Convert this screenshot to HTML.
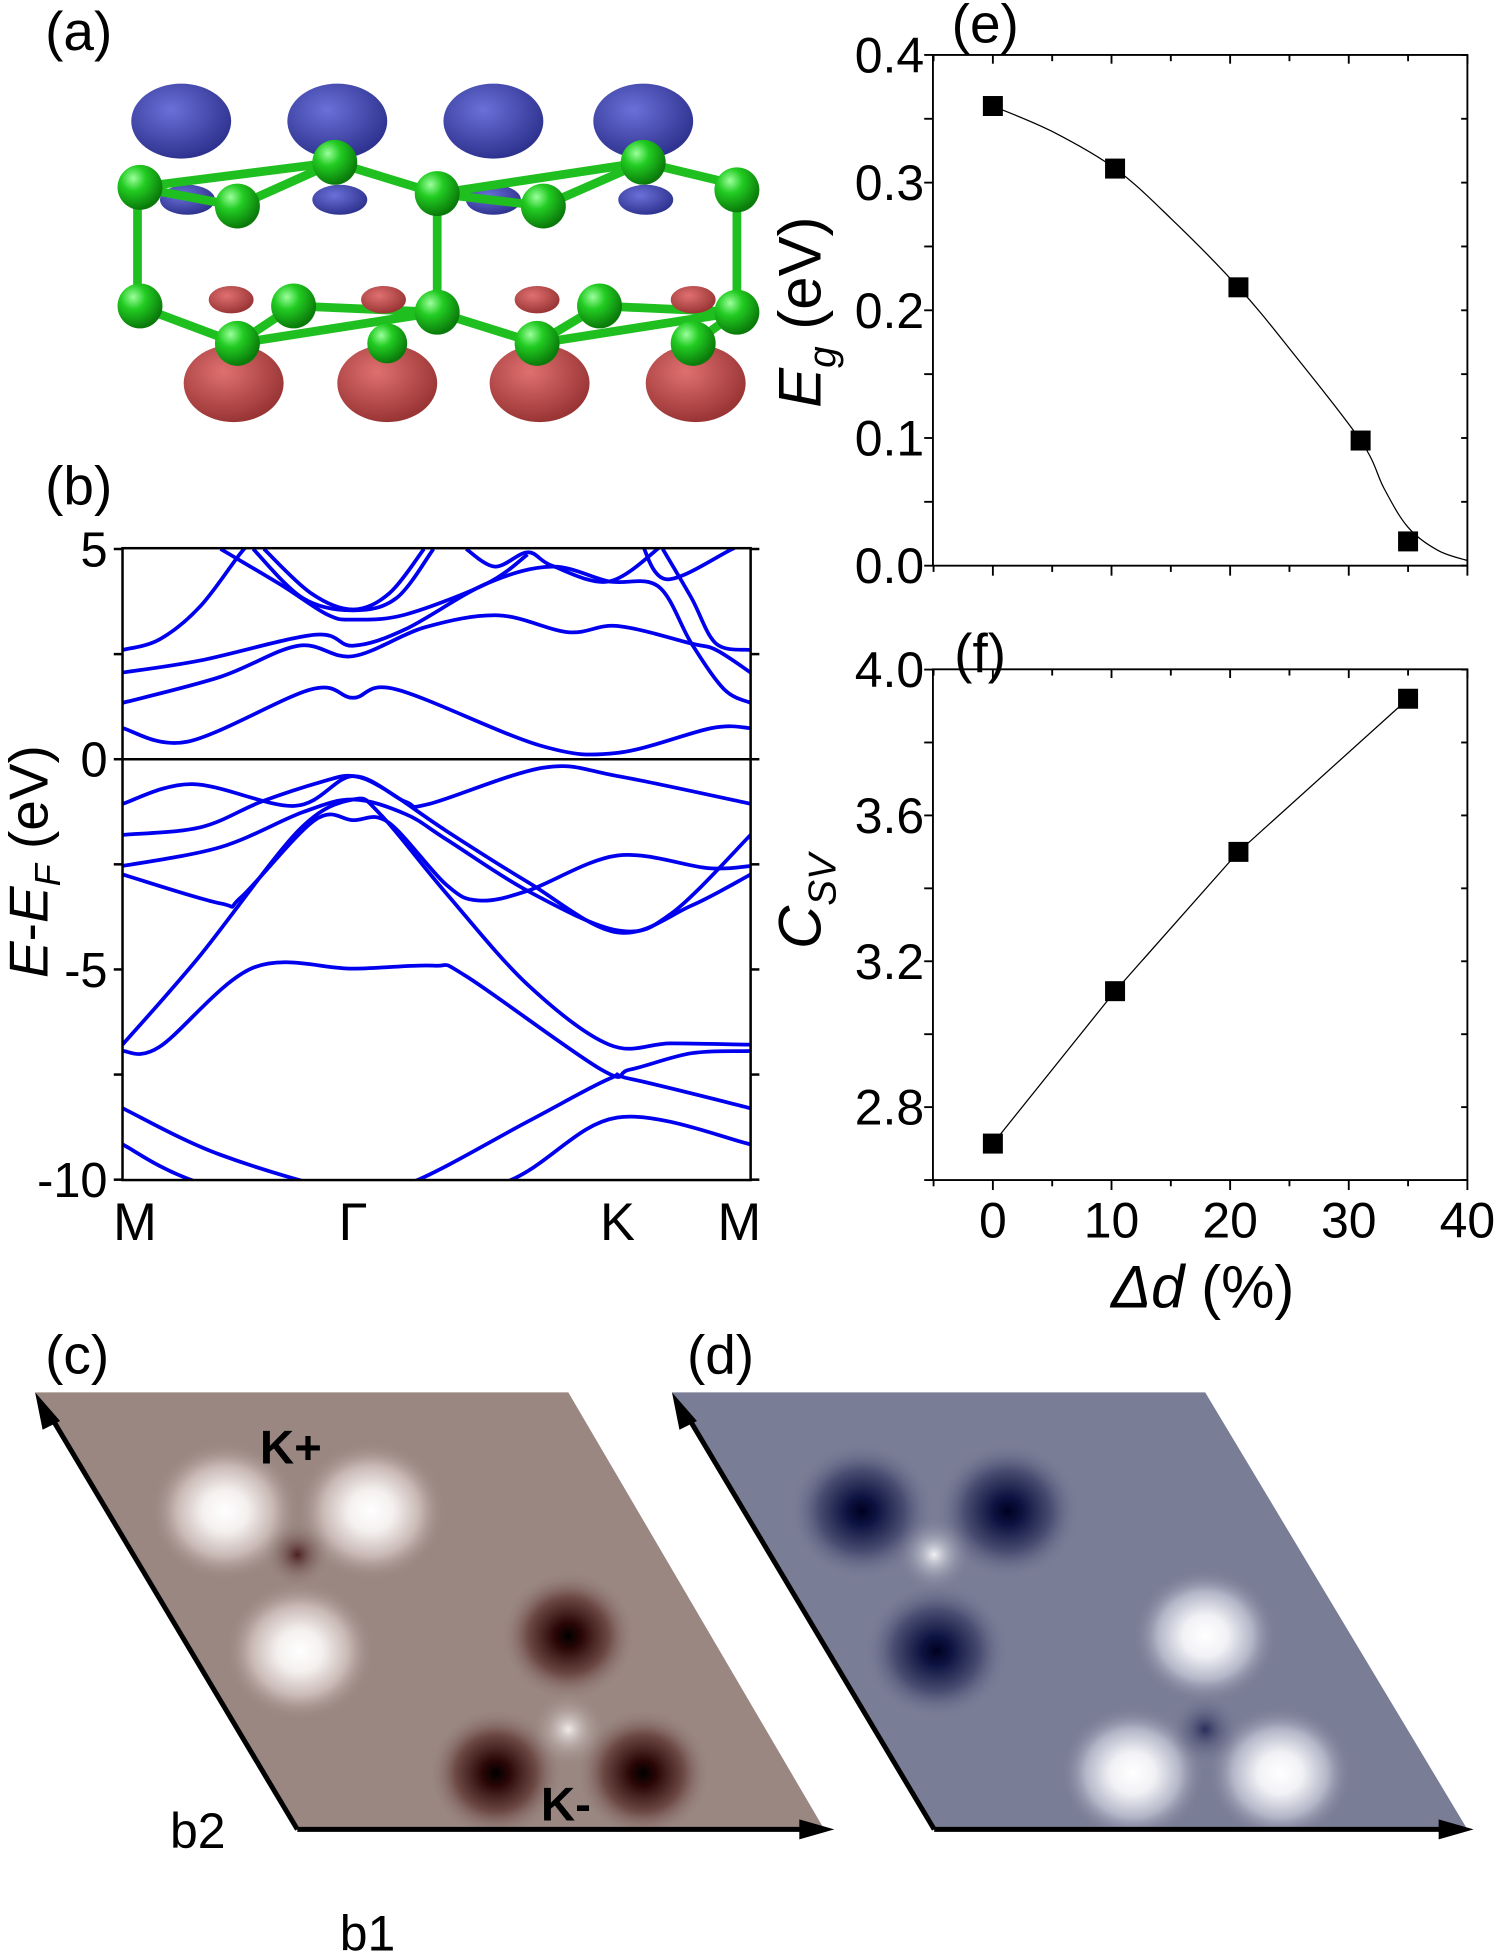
<!DOCTYPE html>
<html><head><meta charset="utf-8">
<style>
html,body{margin:0;padding:0;background:#fff;}
svg{display:block;}
text{font-family:"Liberation Sans",Arial,sans-serif;}
</style></head>
<body>
<svg id="fig" width="1500" height="1958" viewBox="0 0 1201 1568" xmlns="http://www.w3.org/2000/svg">
<defs>
  <clipPath id="bclip"><rect x="98" y="439" width="503" height="506"/></clipPath>
  <radialGradient id="gBlue" cx="40%" cy="35%" r="65%"><stop offset="0" stop-color="#6a70d8"/><stop offset="1" stop-color="#2f3390"/></radialGradient>
  <radialGradient id="gRed" cx="40%" cy="35%" r="65%"><stop offset="0" stop-color="#e07070"/><stop offset="1" stop-color="#9a3535"/></radialGradient>
  <radialGradient id="gGreen" cx="35%" cy="30%" r="70%"><stop offset="0" stop-color="#9cff9c"/><stop offset="0.4" stop-color="#22cc22"/><stop offset="1" stop-color="#0a7a0a"/></radialGradient>
  <radialGradient id="gWhiteC" r="50%"><stop offset="0" stop-color="#ffffff"/><stop offset="0.3" stop-color="#f4f0ef"/><stop offset="0.65" stop-color="#c8b8b4"/><stop offset="1" stop-color="#9a8782" stop-opacity="0"/></radialGradient>
  <radialGradient id="gDarkC" r="50%"><stop offset="0" stop-color="#000"/><stop offset="0.2" stop-color="#2a0606"/><stop offset="0.6" stop-color="#6e4a46"/><stop offset="1" stop-color="#9a8782" stop-opacity="0"/></radialGradient>
  <radialGradient id="gMidC" r="50%"><stop offset="0" stop-color="#4a2020"/><stop offset="1" stop-color="#9a8782" stop-opacity="0"/></radialGradient>
  <radialGradient id="gMidWC" r="50%"><stop offset="0" stop-color="#f0ecea"/><stop offset="1" stop-color="#9a8782" stop-opacity="0"/></radialGradient>
  <radialGradient id="gWhiteD" r="50%"><stop offset="0" stop-color="#ffffff"/><stop offset="0.3" stop-color="#f2f2f6"/><stop offset="0.65" stop-color="#b4b6c8"/><stop offset="1" stop-color="#7a7d96" stop-opacity="0"/></radialGradient>
  <radialGradient id="gDarkD" r="50%"><stop offset="0" stop-color="#000020"/><stop offset="0.2" stop-color="#0c1240"/><stop offset="0.6" stop-color="#4a4e72"/><stop offset="1" stop-color="#7a7d96" stop-opacity="0"/></radialGradient>
  <radialGradient id="gMidD" r="50%"><stop offset="0" stop-color="#2a2e5a"/><stop offset="1" stop-color="#7a7d96" stop-opacity="0"/></radialGradient>
  <radialGradient id="gMidWD" r="50%"><stop offset="0" stop-color="#f0f0f4"/><stop offset="1" stop-color="#7a7d96" stop-opacity="0"/></radialGradient>
  <clipPath id="cclip"><polygon points="28,1115 455,1115 660,1465 238,1465"/></clipPath>
  <clipPath id="dclip"><polygon points="538,1115 965,1115 1175,1465 748,1465"/></clipPath>
</defs>

<!-- panel labels -->
<text x="36" y="40" font-size="44">(a)</text>
<text x="36" y="404" font-size="44">(b)</text>
<text x="36" y="1100" font-size="44">(c)</text>
<text x="550" y="1100" font-size="44">(d)</text>
<text x="762" y="34" font-size="44">(e)</text>
<text x="764" y="538" font-size="44">(f)</text>

<!-- (a) structure -->
<g id="structure">
  <g fill="url(#gBlue)">
    <ellipse cx="145" cy="97" rx="40" ry="30"/><ellipse cx="270" cy="97" rx="40" ry="30"/>
    <ellipse cx="395" cy="97" rx="40" ry="30"/><ellipse cx="515" cy="97" rx="40" ry="30"/>
    <ellipse cx="150" cy="160" rx="22" ry="12"/><ellipse cx="272" cy="160" rx="22" ry="12"/>
    <ellipse cx="395" cy="160" rx="22" ry="12"/><ellipse cx="517" cy="160" rx="22" ry="12"/>
  </g>
  <g stroke="#1fbf1f" stroke-width="7" fill="none">
    <polyline points="110,150 190,165 268,130 350,155 435,165 515,130 598,150"/>
    <polyline points="110,150 268,130"/><polyline points="350,155 515,130"/>
    <line x1="110" y1="150" x2="110" y2="245"/><line x1="350" y1="155" x2="350" y2="250"/><line x1="590" y1="150" x2="590" y2="250"/>
    <polyline points="110,245 190,275 235,245 350,250 430,275 480,245 590,250 555,275"/>
    <polyline points="190,275 350,250"/><polyline points="430,275 590,250"/>
  </g>
  <g fill="url(#gGreen)">
    <circle cx="112" cy="150" r="18"/><circle cx="190" cy="165" r="18"/><circle cx="268" cy="130" r="18"/>
    <circle cx="350" cy="155" r="18"/><circle cx="435" cy="165" r="18"/><circle cx="515" cy="130" r="18"/><circle cx="590" cy="152" r="18"/>
    <circle cx="112" cy="245" r="18"/><circle cx="235" cy="245" r="18"/><circle cx="350" cy="250" r="18"/>
    <circle cx="480" cy="245" r="18"/><circle cx="590" cy="250" r="18"/>
  </g>
  <g fill="url(#gRed)">
    <ellipse cx="185" cy="240" rx="18" ry="11"/><ellipse cx="307" cy="240" rx="18" ry="11"/>
    <ellipse cx="430" cy="240" rx="18" ry="11"/><ellipse cx="555" cy="240" rx="18" ry="11"/>
    <ellipse cx="187" cy="307" rx="40" ry="31"/><ellipse cx="310" cy="307" rx="40" ry="31"/>
    <ellipse cx="432" cy="307" rx="40" ry="31"/><ellipse cx="557" cy="307" rx="40" ry="31"/>
  </g>
  <g fill="url(#gGreen)"><circle cx="190" cy="275" r="18"/><circle cx="430" cy="275" r="18"/><circle cx="555" cy="275" r="18"/><circle cx="310" cy="275" r="16"/></g>
</g>

<!-- (b) band structure -->
<g id="bands"></g>

<!-- (e) and (f) -->
<g id="plotE"></g>
<g id="plotF"></g>

<!-- (c) -->
<g>
  <polygon points="28,1115 455,1115 660,1465 238,1465" fill="#9a8782"/>
  <g clip-path="url(#cclip)">
    <ellipse cx="180" cy="1210" rx="60" ry="56" fill="url(#gWhiteC)"/>
    <ellipse cx="297" cy="1210" rx="60" ry="56" fill="url(#gWhiteC)"/>
    <ellipse cx="240" cy="1322" rx="60" ry="56" fill="url(#gWhiteC)"/>
    <circle cx="238" cy="1245" r="26" fill="url(#gMidC)"/>
    <ellipse cx="455" cy="1310" rx="54" ry="52" fill="url(#gDarkC)"/>
    <ellipse cx="397" cy="1420" rx="54" ry="52" fill="url(#gDarkC)"/>
    <ellipse cx="515" cy="1420" rx="54" ry="52" fill="url(#gDarkC)"/>
    <circle cx="455" cy="1385" r="30" fill="url(#gMidWC)"/>
  </g>
  <text x="208" y="1172" font-size="38" font-weight="bold">K+</text>
  <text x="433" y="1458" font-size="38" font-weight="bold">K-</text>
  <line x1="238" y1="1465" x2="38" y2="1130" stroke="#000" stroke-width="4"/>
  <polygon points="28,1115 48,1138 34,1145" fill="#000"/>
  <line x1="238" y1="1465" x2="648" y2="1465" stroke="#000" stroke-width="4"/>
  <polygon points="668,1465 640,1457 640,1473" fill="#000"/>
  <text x="136" y="1480" font-size="40">b2</text>
  <text x="272" y="1562" font-size="40">b1</text>
</g>

<!-- (d) -->
<g>
  <polygon points="538,1115 965,1115 1175,1465 748,1465" fill="#7a7d96"/>
  <g clip-path="url(#dclip)">
    <ellipse cx="690" cy="1210" rx="58" ry="55" fill="url(#gDarkD)"/>
    <ellipse cx="807" cy="1210" rx="58" ry="55" fill="url(#gDarkD)"/>
    <ellipse cx="750" cy="1322" rx="58" ry="55" fill="url(#gDarkD)"/>
    <circle cx="748" cy="1245" r="30" fill="url(#gMidWD)"/>
    <ellipse cx="965" cy="1310" rx="58" ry="54" fill="url(#gWhiteD)"/>
    <ellipse cx="907" cy="1420" rx="58" ry="54" fill="url(#gWhiteD)"/>
    <ellipse cx="1025" cy="1420" rx="58" ry="54" fill="url(#gWhiteD)"/>
    <circle cx="965" cy="1385" r="28" fill="url(#gMidD)"/>
  </g>
  <line x1="748" y1="1465" x2="548" y2="1130" stroke="#000" stroke-width="4"/>
  <polygon points="538,1115 558,1138 544,1145" fill="#000"/>
  <line x1="748" y1="1465" x2="1160" y2="1465" stroke="#000" stroke-width="4"/>
  <polygon points="1180,1465 1152,1457 1152,1473" fill="#000"/>
</g>
</svg>

<script>
// ---------- (b) band structure data ----------
const bandK = [
 [0,.104,.30,.367,.436,.664,.788,.938,1],
 [0,.156,.280,.367,.482,.599,.710,.788,.906,.945,1],
 [0,.124,.306,.367,.450,.580,.684,.775,.853,.906,.958,1],
 [0,.059,.124,.189,.215],
 [.156,.254,.326,.367,.450,.580,.645],
 [.208,.287,.367,.436,.495],
 [.225,.300,.367,.425,.480],
 [.547,.593,.645,.684,.775,.860],
 [.825,.866,.971,1.0],
 [.860,.906,.945,1],
 [0,.111,.274,.367,.450,.489,.671,.788,1],
 [0,.124,.221,.319,.367,.417,.515,.645,.788,.906,1],
 [0,.156,.287,.367,.450,.515,.645,.788,.873,1],
 [0,.156,.189,.306,.367,.423,.515,.567,.645,.788,.932,1],
 [0,.124,.280,.367,.410,.515,.645,.775,.873,1],
 [0,.059,.208,.367,.495,.547,.762,.808,.906,1],
 [0,.156,.367,.463,.645,.775,.808,1],
 [0,.117,.367,.612,.788,1]
];
const bandE = [
 [.74,.42,1.66,1.46,1.66,.33,.15,.74,.74],
 [1.34,1.96,2.70,2.45,3.14,3.42,3.02,3.17,2.75,2.60,2.06],
 [2.06,2.35,2.96,2.70,3.09,4.18,4.58,4.23,4.11,2.75,1.66,1.34],
 [2.60,2.85,3.64,4.92,5.3],
 [5.0,4.13,3.44,3.32,3.44,4.18,4.87],
 [5.0,3.83,3.54,3.83,5.0],
 [5.0,3.95,3.56,3.95,5.0],
 [5.0,4.58,4.92,4.60,4.23,5.1],
 [5.2,4.28,5.0,5.2],
 [5.0,3.83,2.75,2.60],
 [-1.06,-.59,-1.11,-.40,-1.01,-1.06,-.20,-.40,-1.06],
 [-1.80,-1.62,-1.01,-.53,-.40,-.71,-1.70,-2.92,-4.12,-3.48,-2.74],
 [-2.54,-2.09,-1.26,-.96,-1.30,-1.90,-3.13,-4.07,-3.68,-1.80],
 [-2.74,-3.43,-3.28,-1.45,-1.45,-1.50,-2.98,-3.36,-3.13,-2.29,-2.59,-2.54],
 [-6.79,-4.66,-1.70,-.96,-1.30,-3.18,-5.36,-6.79,-6.76,-6.79],
 [-6.94,-6.84,-4.96,-4.98,-4.91,-5.16,-7.38,-7.38,-6.99,-6.94],
 [-8.30,-9.41,-10.30,-10.05,-8.62,-7.60,-7.60,-8.30],
 [-9.16,-10.05,-11.09,-10.05,-8.52,-9.16]
];
const eTicks = [5,0,-5,-10];
const eTickLabels = ['5','0','-5','-10'];
const kPoints = [0,.367,.788,1];
const kLabels = ['M','\u0393','K','M'];

// ---------- (e),(f) data ----------
const strain = [0,10.3,20.7,31,35];
const gapVals = [0.360,0.311,0.218,0.098,0.019];
const fitStrain = [0,5,10.3,15,20.7,25,31,33,35,37.5,40];
const fitGap = [0.360,0.340,0.311,0.272,0.218,0.170,0.098,0.060,0.030,0.012,0.004];
const strainF = [0,10.3,20.7,35];
const csvVals = [2.70,3.118,3.50,3.92];
const eYTicks = [0,0.1,0.2,0.3,0.4];
const eYLabels = ['0.0','0.1','0.2','0.3','0.4'];
const fYTicks = [2.8,3.2,3.6,4.0];
const fYLabels = ['2.8','3.2','3.6','4.0'];
const xTicks = [0,10,20,30,40];
const xLabels = ['0','10','20','30','40'];

const NS='http://www.w3.org/2000/svg';
function mk(tag, attrs, parent){const e=document.createElementNS(NS,tag);for(const k in attrs)e.setAttribute(k,attrs[k]);parent.appendChild(e);return e;}
function smoothPath(pts){
  let d='M'+pts[0][0].toFixed(1)+','+pts[0][1].toFixed(1);
  for(let i=0;i<pts.length-1;i++){
    const p0=pts[Math.max(0,i-1)],p1=pts[i],p2=pts[i+1],p3=pts[Math.min(pts.length-1,i+2)];
    const c1=[p1[0]+(p2[0]-p0[0])/6,p1[1]+(p2[1]-p0[1])/6];
    const c2=[p2[0]-(p3[0]-p1[0])/6,p2[1]-(p3[1]-p1[1])/6];
    d+=' C'+c1[0].toFixed(1)+','+c1[1].toFixed(1)+' '+c2[0].toFixed(1)+','+c2[1].toFixed(1)+' '+p2[0].toFixed(1)+','+p2[1].toFixed(1);
  }
  return d;
}

// ----- band plot -----
(function(){
  const g=document.getElementById('bands');
  const X0=98,X1=601,Y0=439,Y1=945;
  const kx=k=>X0+k*(X1-X0);
  const ey=E=>608-E*33.67;
  const lines=mk('g',{'clip-path':'url(#bclip)'},g);
  for(let b=0;b<bandK.length;b++){
    const pts=bandK[b].map((k,i)=>[kx(k),ey(bandE[b][i])]);
    const p=mk('path',{d:smoothPath(pts),fill:'none',stroke:'#0000ee','stroke-width':3},lines);
    
    
  }
  const z=mk('line',{x1:X0,x2:X1,y1:ey(0),y2:ey(0),stroke:'#000','stroke-width':2},g);
  
  
  mk('rect',{x:X0,y:Y0,width:X1-X0,height:Y1-Y0,fill:'none',stroke:'#000','stroke-width':2},g);
  [5,2.5,0,-2.5,-5,-7.5,-10].forEach(v=>{
    mk('line',{x1:X0-7,x2:X0,y1:ey(v),y2:ey(v),stroke:'#000','stroke-width':2},g);
    mk('line',{x1:X1,x2:X1+7,y1:ey(v),y2:ey(v),stroke:'#000','stroke-width':2},g);
  });
  eTicks.forEach((v,i)=>{
    const t=mk('text',{x:X0-12,y:ey(v)+14,'font-size':39,'text-anchor':'end'},g);
    t.textContent=eTickLabels[i];
    
    
  });
  kPoints.forEach((k,i)=>{
    let x=kx(k); if(i===0)x+=10; if(i===3)x-=9;
    const t=mk('text',{x:x,y:993,'font-size':42,'text-anchor':'middle','font-family':i===1?'"Liberation Serif",serif':'"Liberation Sans",sans-serif'},g);
    t.textContent=kLabels[i];
    
    
  });
  const yt=mk('text',{transform:'translate(38,690) rotate(-90)','font-size':44,'text-anchor':'middle'},g);
  
  
  yt.innerHTML='<tspan font-style="italic">E</tspan>-<tspan font-style="italic">E</tspan><tspan font-style="italic" font-size="29" dy="10">F</tspan><tspan dy="-10"> (eV)</tspan>';
})();

// ----- e & f -----
const XL=747,XR=1175;
const sx=d=>795+d*9.5;
function framePlot(g,top,bot,yfun,ticks,labels,minorTicks,showX){
  mk('rect',{x:XL,y:top,width:XR-XL,height:bot-top,fill:'none',stroke:'#000','stroke-width':1.5},g);
  for(let d=-5;d<=40;d+=5){
    const x=sx(d); const major=d%10===0;
    mk('line',{x1:x,x2:x,y1:bot,y2:bot+(major?8:5),stroke:'#000','stroke-width':1.5},g);
    mk('line',{x1:x,x2:x,y1:top,y2:top+(major?7:5),stroke:'#000','stroke-width':1.5},g);
  }
  minorTicks.forEach(v=>{
    const y=yfun(v);
    mk('line',{x1:XL-7,x2:XL,y1:y,y2:y,stroke:'#000','stroke-width':1.5},g);
    mk('line',{x1:XR-5,x2:XR,y1:y,y2:y,stroke:'#000','stroke-width':1.5},g);
  });
  ticks.forEach((v,i)=>{
    const t=mk('text',{x:XL-7,y:yfun(v)+14,'font-size':40,'text-anchor':'end'},g);
    t.textContent=labels[i];
    
    
  });
  if(showX){
    xTicks.forEach((v,i)=>{
      const t=mk('text',{x:sx(v),y:991,'font-size':40,'text-anchor':'middle'},g);
      t.textContent=xLabels[i];
      
      
    });
  }
}
(function(){
  const g=document.getElementById('plotE');
  const top=44,bot=453;
  const y=v=>bot-v*1022.5;
  framePlot(g,top,bot,y,eYTicks,eYLabels,[0,.05,.1,.15,.2,.25,.3,.35,.4],false);
  const pts=fitStrain.map((d,i)=>[sx(d),y(fitGap[i])]);
  const c=mk('path',{d:smoothPath(pts),fill:'none',stroke:'#000','stroke-width':1},g);
  
  
  strain.forEach((d,i)=>{
    const r=mk('rect',{x:sx(d)-8,y:y(gapVals[i])-8,width:16,height:16,fill:'#000'},g);
    
    
  });
  const t=mk('text',{transform:'translate(657,250) rotate(-90)','font-size':48,'text-anchor':'middle'},g);
  
  
  t.innerHTML='<tspan font-style="italic">E</tspan><tspan font-style="italic" font-size="31" dy="12">g</tspan><tspan dy="-12"> (eV)</tspan>';
})();
(function(){
  const g=document.getElementById('plotF');
  const top=536,bot=945;
  const y=v=>bot-(v-2.6)*292;
  framePlot(g,top,bot,y,fYTicks,fYLabels,[2.6,2.8,3.0,3.2,3.4,3.6,3.8,4.0],true);
  const d='M'+strainF.map((s,i)=>sx(s).toFixed(1)+','+y(csvVals[i]).toFixed(1)).join(' L');
  const l=mk('path',{d:d,fill:'none',stroke:'#000','stroke-width':1},g);
  
  
  strainF.forEach((s,i)=>{
    const r=mk('rect',{x:sx(s)-8,y:y(csvVals[i])-8,width:16,height:16,fill:'#000'},g);
    
    
  });
  const t=mk('text',{transform:'translate(657,722) rotate(-90)','font-size':48,'text-anchor':'middle'},g);
  
  
  t.innerHTML='<tspan font-style="italic">C</tspan><tspan font-style="italic" font-size="31" dy="12">SV</tspan>';
  const xt=mk('text',{x:963,y:1047,'font-size':48,'text-anchor':'middle'},g);
  
  
  xt.innerHTML='<tspan font-style="italic">\u0394d</tspan> (%)';
})();
</script>
</body></html>
